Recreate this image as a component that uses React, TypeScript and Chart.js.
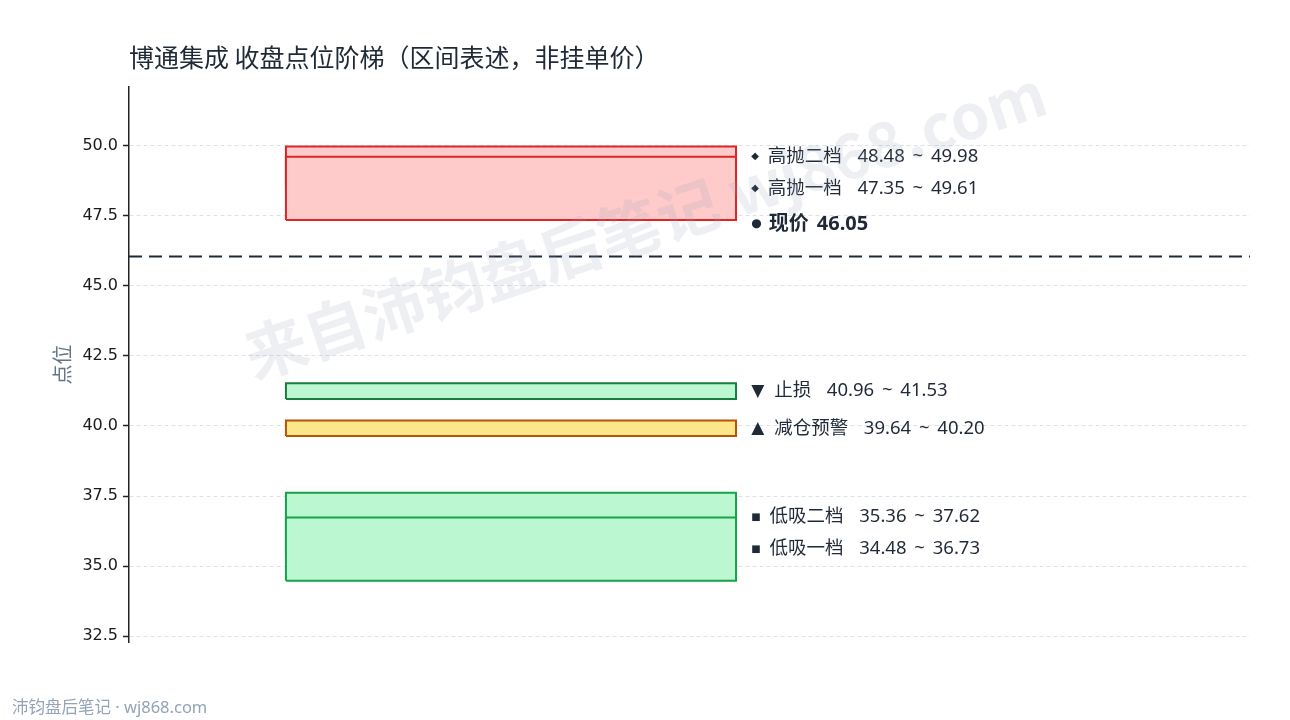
import { useEffect, useRef } from 'react'
import { Chart, registerables } from 'chart.js'

Chart.register(...registerables)

// zones, drawn in this order (first one ends up on top)
const zoneNames = ['高抛一档', '高抛二档', '止损', '减仓预警', '低吸一档', '低吸二档']
const zoneLow = [47.35, 48.48, 40.96, 39.64, 34.48, 35.36]
const zoneHigh = [49.61, 49.98, 41.53, 40.2, 36.73, 37.62]
const zoneMarkers = ['◆', '◆', '▼', '▲', '■', '■']
const zoneFill = ['#fecaca', '#fecaca', '#bbf7d0', '#fde68a', '#bbf7d0', '#bbf7d0']
const zoneBorder = ['#dc2626', '#dc2626', '#15803d', '#b45309', '#16a34a', '#16a34a']

const currentPrice = 46.05
const currentLabel = '现价'
const yTickValues = [32.5, 35, 37.5, 40, 42.5, 45, 47.5, 50]

const title = '博通集成 收盘点位阶梯（区间表述，非挂单价）'
const yTitle = '点位'
const watermark = '来自沛钧盘后笔记 wj868.com'
const footer = '沛钧盘后笔记 · wj868.com'

const CJK = "'Noto Sans CJK SC', 'Noto Sans', sans-serif"
const MIXED = "'Noto Sans', 'Noto Sans CJK SC', sans-serif"
const TEXT = '#1f2937'

// box span across the hidden 0..1 x axis
const BOX_X0 = 0.14
const BOX_X1 = 0.5415
const LABEL_X = 0.555

const overlay = {
  id: 'overlay',
  afterDatasetsDraw(chart: any) {
    const { ctx } = chart
    const x = chart.scales.x
    const y = chart.scales.y
    const lx = x.getPixelForValue(LABEL_X)

    type Lab = { mid: number; py: number; marker: string; text: string; bold: boolean; mSize: number; gap: number }
    const labs: Lab[] = zoneNames.map((n, i) => {
      const mid = (zoneLow[i] + zoneHigh[i]) / 2
      const tri = zoneMarkers[i] === '▼' || zoneMarkers[i] === '▲'
      return {
        mid,
        py: y.getPixelForValue(mid),
        marker: zoneMarkers[i],
        text: `${n}  ${zoneLow[i].toFixed(2)} ~ ${zoneHigh[i].toFixed(2)}`,
        bold: false,
        mSize: tri ? 17 : 10,
        gap: tri ? 10 : 9,
      }
    })
    labs.push({
      mid: currentPrice + 0.5,
      py: y.getPixelForValue(currentPrice) - 32.5,
      marker: '●',
      text: `${currentLabel} ${currentPrice.toFixed(2)}`,
      bold: true,
      mSize: 12,
      gap: 7,
    })
    labs.sort((a, b) => a.mid - b.mid)
    let prev = Infinity
    for (const l of labs) {
      l.py = Math.min(l.py, prev - 32)
      prev = l.py
    }

    ctx.save()
    ctx.fillStyle = TEXT
    ctx.textBaseline = 'middle'
    ctx.textAlign = 'left'
    for (const l of labs) {
      ctx.font = `${l.mSize}px 'DejaVu Sans'`
      ctx.fillText(l.marker, lx, l.py)
      const mw = ctx.measureText(l.marker).width
      ctx.font = `${l.bold ? 'bold 20px' : '18.5px'} ${MIXED}`
      ;(ctx as any).wordSpacing = '3px'
      ctx.fillText(l.text, lx + mw + l.gap, l.py)
      ;(ctx as any).wordSpacing = '0px'
    }
    ctx.restore()
  },
  afterDraw(chart: any) {
    const { ctx, chartArea } = chart
    ctx.save()
    // title
    ctx.fillStyle = TEXT
    ctx.font = `25px ${CJK}`
    ctx.textBaseline = 'middle'
    ctx.textAlign = 'left'
    ctx.fillText(title, chartArea.left, 57)
    // y title
    ctx.save()
    ctx.translate(62, (chartArea.top + chartArea.bottom) / 2)
    ctx.rotate(-Math.PI / 2)
    ctx.textAlign = 'center'
    ctx.fillStyle = '#64748b'
    ctx.font = `20px ${CJK}`
    ctx.fillText(yTitle, 0, 0)
    ctx.restore()
    // footer
    ctx.fillStyle = '#94a3b8'
    ctx.font = `16.5px ${MIXED}`
    ctx.textBaseline = 'alphabetic'
    ctx.fillText(footer, 12, 713)
    // watermark
    ctx.translate(645, 224)
    ctx.rotate(-18.5 * Math.PI / 180)
    ctx.textAlign = 'center'
    ctx.textBaseline = 'middle'
    ctx.fillStyle = 'rgba(148, 163, 184, 0.17)'
    ctx.font = `bold 62px ${CJK}`
    ctx.fillText(watermark, 0, 0)
    ctx.restore()
  },
}

export default function App() {
  const canvasRef = useRef<HTMLCanvasElement | null>(null)

  useEffect(() => {
    document.body.style.margin = '0'
    if (!canvasRef.current) return
    const ctx = canvasRef.current.getContext('2d')
    if (!ctx) return

    const zoneSets = zoneNames.map((n, i) => ({
      type: 'scatter' as const,
      label: n,
      data: [
        { x: BOX_X0, y: zoneLow[i] },
        { x: BOX_X1, y: zoneLow[i] },
        { x: BOX_X1, y: zoneHigh[i] },
        { x: BOX_X0, y: zoneHigh[i] },
        { x: BOX_X0, y: zoneLow[i] },
      ],
      showLine: true,
      fill: 'shape',
      backgroundColor: zoneFill[i],
      borderColor: zoneBorder[i],
      borderWidth: 2,
      pointRadius: 0,
      tension: 0,
    }))

    const chart = new Chart(ctx, {
      type: 'scatter',
      data: {
        datasets: [
          {
            label: currentLabel,
            data: [
              { x: 0, y: currentPrice },
              { x: 1, y: currentPrice },
            ],
            showLine: true,
            borderColor: '#1e293b',
            borderWidth: 2,
            borderDash: [13, 7],
            pointRadius: 0,
          },
          ...zoneSets,
        ] as any,
      },
      options: {
        animation: false,
        responsive: true,
        maintainAspectRatio: false,
        layout: { padding: { top: 87, right: 40, bottom: 78, left: 0 } },
        plugins: { legend: { display: false }, tooltip: { enabled: false }, title: { display: false } },
        scales: {
          x: { type: 'linear', min: 0, max: 1, display: false },
          y: {
            type: 'linear',
            min: 32.29,
            max: 52.1,
            afterFit: (s: any) => {
              s.width = 129
            },
            afterBuildTicks: (s: any) => {
              s.ticks = yTickValues.map((v) => ({ value: v }))
            },
            ticks: {
              padding: 5,
              color: '#1a1a1a',
              font: { family: "'DejaVu Sans'", size: 16 },
              callback: (v: any) => Number(v).toFixed(1),
            },
            grid: {
              color: '#dde1e6',
              lineWidth: 1,
              tickColor: '#222222',
              tickLength: 6,
              tickWidth: 1.5,
            },
            border: { display: true, color: '#222222', width: 1.5, dash: [4, 3] },
          },
        },
      },
      plugins: [overlay],
    })

    return () => chart.destroy()
  }, [])

  return (
    <div style={{ width: 1290, height: 720, position: 'relative', background: '#fff' }}>
      <canvas ref={canvasRef}></canvas>
    </div>
  )
}
